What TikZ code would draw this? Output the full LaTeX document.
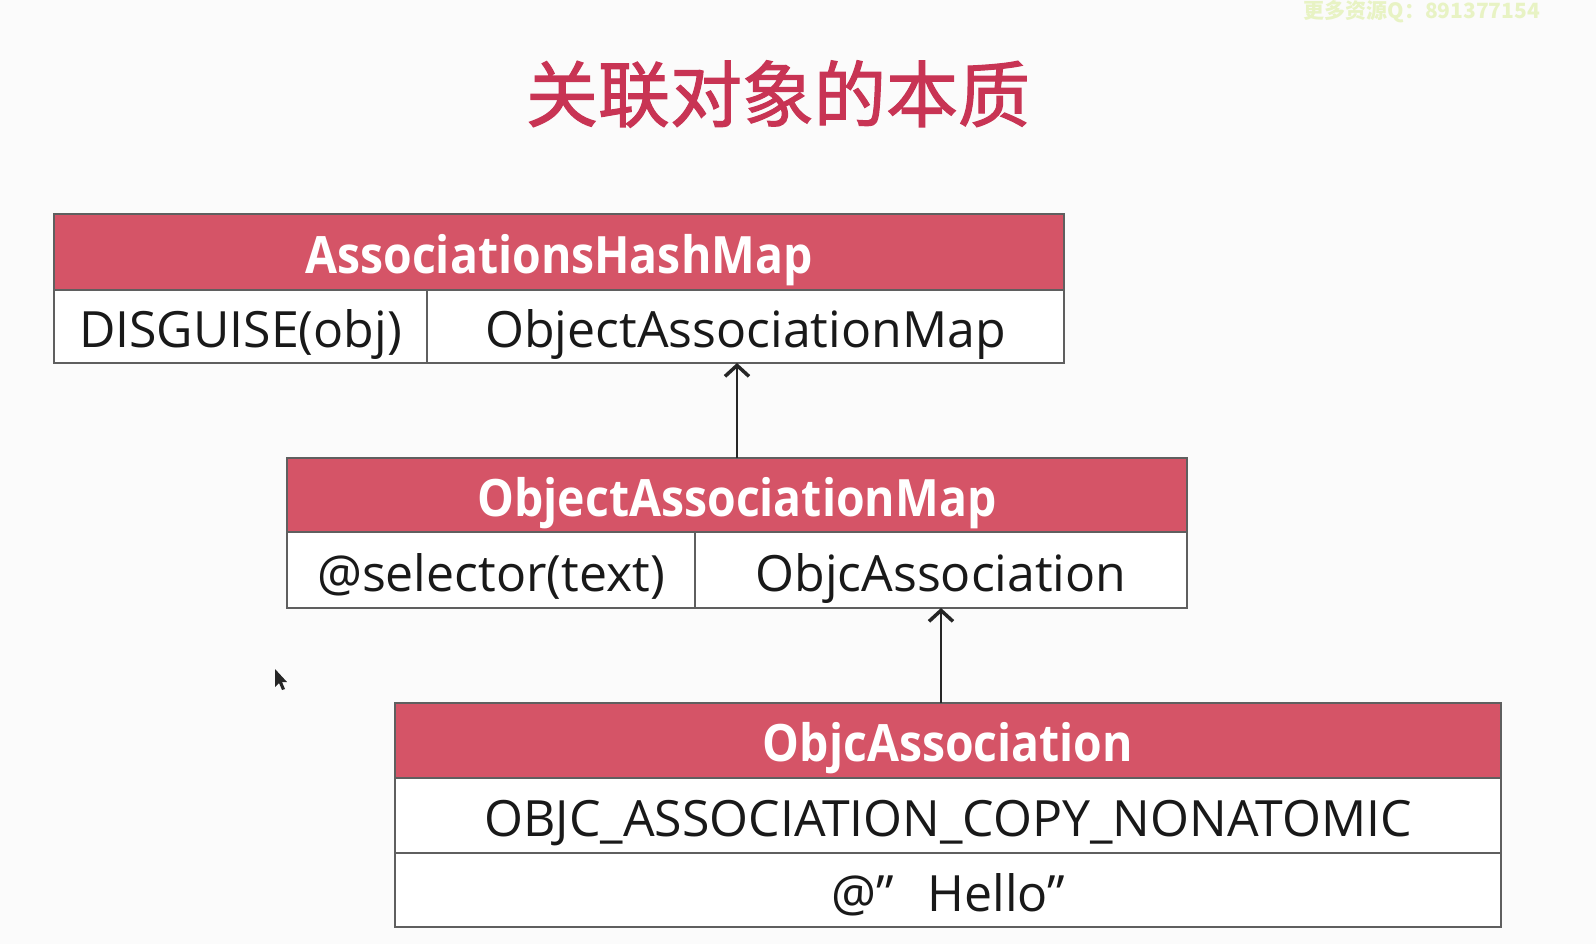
\documentclass[tikz,border=0pt]{standalone}
\usepackage{fontspec}
\setmainfont{Open Sans}
\newfontfamily\headfont[FakeStretch=0.9]{Open Sans}
\newfontfamily\cjkfont{Noto Sans CJK SC}
\newfontfamily\cjktitle[FakeBold=1.6]{Noto Sans CJK SC}
\usetikzlibrary{arrows.meta}

\definecolor{hdr}{RGB}{213,84,103}
\definecolor{ttl}{RGB}{200,52,84}
\definecolor{edge}{RGB}{95,95,95}
\definecolor{wmark}{RGB}{232,243,196}
\definecolor{paper}{RGB}{251,251,251}

\begin{document}
\begin{tikzpicture}[x=1pt,y=-1pt,
  cell/.style={draw=edge, fill=white, line width=1.6pt, inner sep=0pt, outer sep=0pt,
    anchor=north west, text=black!90, text height=44pt, text depth=2pt,
    font=\fontsize{50}{56}\selectfont},
  head/.style={cell, fill=hdr, text=white, font=\headfont\fontsize{51.5}{56}\selectfont\bfseries},
  link/.style={draw=black!85, line width=2pt,
    -{Straight Barb[length=11pt,width=24pt,line width=3.5pt]}}]

% canvas
\fill[paper] (0,0) rectangle (1596,944);
\useasboundingbox (0,0) rectangle (1596,944);

% watermark and title
\node[text=wmark, font=\cjkfont\fontsize{21}{22}\selectfont\bfseries, anchor=west] (wm) at (1300,12) {更多资源Q：891377154};
\node[text=ttl, font=\cjktitle\fontsize{72}{76}\selectfont] (title) at (778,94) {关联对象的本质};

% AssociationsHashMap
\node[head, minimum width=1010pt, minimum height=76pt] (h1) at (54,214) {AssociationsHashMap};
\node[cell, minimum width=373pt, minimum height=73pt] (k1) at (54,290) {DISGUISE(obj)};
\node[cell, minimum width=637pt, minimum height=73pt] (v1) at (427,290) {ObjectAssociationMap};

% ObjectAssociationMap
\node[head, minimum width=900pt, minimum height=74pt] (h2) at (287,458) {ObjectAssociationMap};
\node[cell, minimum width=408pt, minimum height=76pt] (k2) at (287,532) {@selector(text)};
\node[cell, minimum width=492pt, minimum height=76pt] (v2) at (695,532) {ObjcAssociation};

% ObjcAssociation
\node[head, minimum width=1106pt, minimum height=75pt] (h3) at (395,703) {ObjcAssociation};
\node[cell, minimum width=1106pt, minimum height=75pt] (p3) at (395,778) {OBJC\_ASSOCIATION\_COPY\_NONATOMIC};
\node[cell, minimum width=1106pt, minimum height=74pt] (v3) at (395,853) {@”\hspace{34pt}Hello”};

% references between the maps
\draw[link] ([xshift=450pt]h2.north west) -- ([xshift=450pt]h2.north west |- v1.south);
\draw[link] ([xshift=546pt]h3.north west) -- ([xshift=546pt]h3.north west |- v2.south);

% mouse pointer
\fill[black!85] (275,669) -- (275,687) -- (279,683) -- (282,690) -- (285,689) -- (282,682) -- (287,682) -- cycle;
\end{tikzpicture}
\end{document}
